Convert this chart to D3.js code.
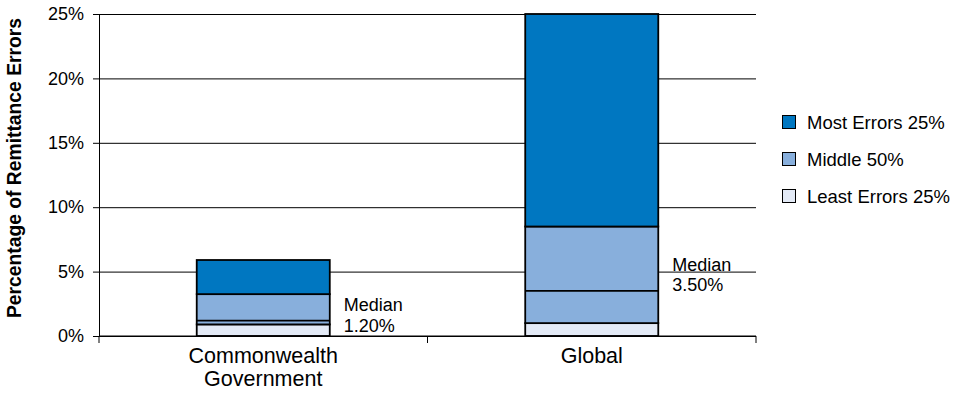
<!DOCTYPE html>
<html>
<head>
<meta charset="utf-8">
<script src="https://cdn.jsdelivr.net/npm/d3@7/dist/d3.min.js"></script>
<style>
  html, body { margin: 0; padding: 0; background: #fff; }
  svg { display: block; font-family: Arial, "Liberation Sans", sans-serif; }
</style>
</head>
<body>
<svg id="chart" width="955" height="400"></svg>
<script>
// Remittance error distribution by group (percent)
const categories = ["Commonwealth Government", "Global"];
const lowest = [0, 0];
const lowerQuartile = [0.9, 1.0];
const median = [1.2, 3.5];
const upperQuartile = [3.25, 8.5];
const highest = [5.9, 25];

const yTicks = [0, 5, 10, 15, 20, 25];
const seriesNames = ["Most Errors 25%", "Middle 50%", "Least Errors 25%"];
const seriesColors = ["#0077c1", "#88afdc", "#e3eaf6"];

const svg = d3.select("#chart");
const plot = { left: 99, right: 756, top: 14, bottom: 336 };

const x = d3.scaleBand().domain(categories).range([plot.left, plot.right]);
const y = d3.scaleLinear().domain([0, 25]).range([plot.bottom, plot.top]);

// horizontal gridlines
svg.append("g")
  .attr("transform", `translate(${plot.left},0)`)
  .call(d3.axisLeft(y).tickValues(yTicks).tickSize(-(plot.right - plot.left)).tickFormat(""))
  .call(g => g.select(".domain").remove())
  .call(g => g.selectAll("line").attr("stroke", "#000").attr("stroke-width", 1));

// y axis with labels
const yAxis = svg.append("g")
  .attr("transform", `translate(${plot.left},0)`)
  .call(d3.axisLeft(y).tickValues(yTicks).tickSize(6).tickSizeOuter(0).tickPadding(9).tickFormat(d => d + "%"));
yAxis.select(".domain").attr("stroke", "#000").attr("stroke-width", 1);
yAxis.selectAll("text").attr("font-size", 18).attr("fill", "#000")
  .attr("font-family", 'Arial, "Liberation Sans", sans-serif');

// y axis title
svg.append("text")
  .attr("transform", `translate(21,${(plot.top + plot.bottom) / 2 - 7}) rotate(-90)`)
  .attr("text-anchor", "middle")
  .attr("font-size", 19.3)
  .attr("font-weight", "bold")
  .attr("fill", "#000")
  .text("Percentage of Remittance Errors");

// box segments: least, middle, most
const rows = categories.map((c, i) => ({
  cat: c,
  segs: [
    { lo: lowest[i], hi: lowerQuartile[i], color: seriesColors[2] },
    { lo: lowerQuartile[i], hi: upperQuartile[i], color: seriesColors[1] },
    { lo: upperQuartile[i], hi: highest[i], color: seriesColors[0] }
  ],
  med: median[i],
  q1: lowerQuartile[i],
  q3: upperQuartile[i]
}));

const barW = x.bandwidth() * 0.405;
const barX = c => x(c) + (x.bandwidth() - barW) / 2;

const bars = svg.selectAll("g.bar").data(rows).join("g").attr("class", "bar");
bars.selectAll("rect").data(d => d.segs.map(s => ({ ...s, cat: d.cat }))).join("rect")
  .attr("x", d => barX(d.cat))
  .attr("width", barW)
  .attr("y", d => y(d.hi))
  .attr("height", d => y(d.lo) - y(d.hi))
  .attr("fill", d => d.color)
  .attr("stroke", "#000")
  .attr("stroke-width", 1.8);

// median line
bars.append("line")
  .attr("x1", d => barX(d.cat))
  .attr("x2", d => barX(d.cat) + barW)
  .attr("y1", d => y(d.med))
  .attr("y2", d => y(d.med))
  .attr("stroke", "#000")
  .attr("stroke-width", 1.8);

// median labels
const medLabel = bars.append("text")
  .attr("x", d => barX(d.cat) + barW + 14)
  .attr("y", d => y((d.q1 + d.q3) / 2) - 4 + (d.q3 < 5 ? 6 : 0))
  .attr("font-size", 18)
  .attr("fill", "#000");
medLabel.append("tspan").text("Median");
medLabel.append("tspan")
  .attr("x", d => barX(d.cat) + barW + 14)
  .attr("dy", 20.5)
  .text(d => d3.format(".2f")(d.med) + "%");

// x axis: baseline with ticks at band edges
svg.append("line")
  .attr("x1", plot.left).attr("x2", plot.right)
  .attr("y1", plot.bottom).attr("y2", plot.bottom)
  .attr("stroke", "#000").attr("stroke-width", 1);
const edges = categories.map(c => x(c)).concat([plot.right]);
svg.selectAll("line.xtick").data(edges).join("line")
  .attr("class", "xtick")
  .attr("x1", d => d).attr("x2", d => d)
  .attr("y1", plot.bottom).attr("y2", plot.bottom + 7)
  .attr("stroke", "#000").attr("stroke-width", 1);

// category labels, one word per line
const catText = svg.selectAll("text.cat").data(categories).join("text")
  .attr("class", "cat")
  .attr("text-anchor", "middle")
  .attr("font-size", 21.5)
  .attr("fill", "#000")
  .attr("y", 363);
catText.each(function (c) {
  const words = c.split(" ");
  const t = d3.select(this);
  words.forEach((w, i) => {
    t.append("tspan")
      .attr("x", x(c) + x.bandwidth() / 2)
      .attr("dy", i === 0 ? 0 : 22.5)
      .text(w);
  });
});

// legend
const legend = svg.append("g").attr("transform", "translate(782,0)");
const legendY = [122, 159, 196];
seriesNames.forEach((name, i) => {
  legend.append("rect")
    .attr("x", 0.5).attr("y", legendY[i] - 6.5)
    .attr("width", 13).attr("height", 13)
    .attr("fill", seriesColors[i])
    .attr("stroke", "#000").attr("stroke-width", 1);
  legend.append("text")
    .attr("x", 25).attr("y", legendY[i] + 6.5)
    .attr("font-size", 18.5)
    .attr("fill", "#000")
    .text(name);
});
</script>
</body>
</html>
